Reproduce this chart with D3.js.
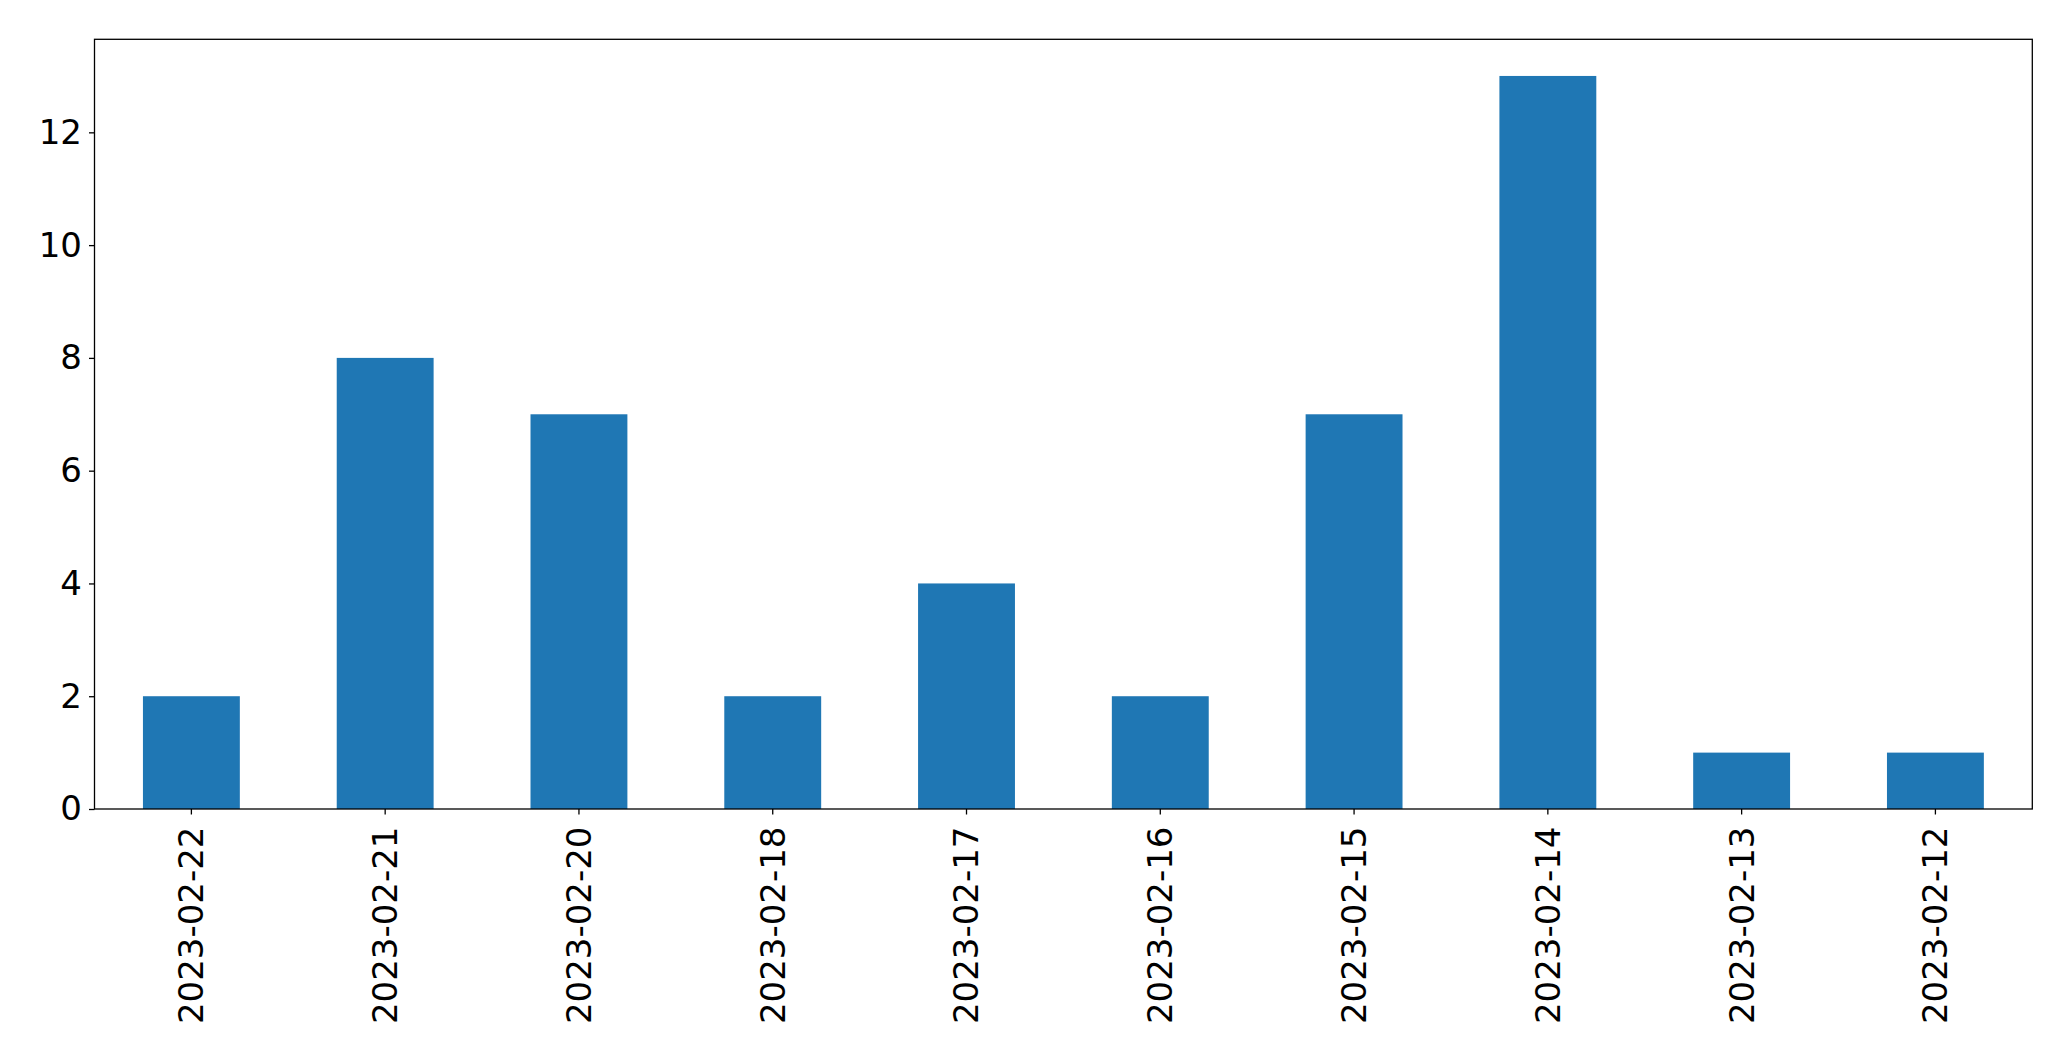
<!DOCTYPE html>
<html><head><meta charset="utf-8">
<script src="https://cdn.jsdelivr.net/npm/d3@7"></script>
<style>html,body{margin:0;padding:0;background:#fff;}</style>
</head><body>
<svg id="chart" width="2071" height="1061"></svg>
<script>
const categories = ["2023-02-22","2023-02-21","2023-02-20","2023-02-18","2023-02-17","2023-02-16","2023-02-15","2023-02-14","2023-02-13","2023-02-12"];
const values = [2, 8, 7, 2, 4, 2, 7, 13, 1, 1];
const yTicks = [0, 2, 4, 6, 8, 10, 12];

const margin = {left: 94.5, right: 2032.3, top: 39.3, bottom: 809};
const svg = d3.select("#chart");
const font = "'DejaVu Sans', sans-serif";
const fs = 34;

const x = d3.scaleBand().domain(categories).range([margin.left, margin.right]).paddingInner(0.5).paddingOuter(0.25);
const y = d3.scaleLinear().domain([0, d3.max(values) * 1.05]).range([margin.bottom, margin.top]);

svg.append("g").selectAll("rect").data(values).join("rect")
  .attr("x", (d, i) => x(categories[i]))
  .attr("width", x.bandwidth())
  .attr("y", d => y(d))
  .attr("height", d => y(0) - y(d))
  .attr("fill", "#1f77b4");

const yAxis = svg.append("g").attr("transform", `translate(${margin.left},0)`)
  .call(d3.axisLeft(y).tickValues(yTicks).tickSize(5.5).tickPadding(7).tickFormat(d3.format("d")));
yAxis.select(".domain").remove();
yAxis.selectAll("line").attr("stroke", "#000").attr("stroke-width", 1.3);
yAxis.selectAll("text").attr("font-family", font).attr("font-size", fs).attr("fill", "#000");

const xAxis = svg.append("g").attr("transform", `translate(0,${margin.bottom})`)
  .call(d3.axisBottom(x).tickSize(5.5).tickPadding(12));
xAxis.select(".domain").remove();
xAxis.selectAll("line").attr("stroke", "#000").attr("stroke-width", 1.3);
xAxis.selectAll("text")
  .attr("font-family", font).attr("font-size", fs).attr("fill", "#000")
  .attr("transform", "rotate(-90)")
  .attr("text-anchor", "end")
  .attr("x", -17.5).attr("y", 0).attr("dy", "0.35em");

svg.append("rect")
  .attr("x", margin.left).attr("y", margin.top)
  .attr("width", margin.right - margin.left).attr("height", margin.bottom - margin.top)
  .attr("fill", "none").attr("stroke", "#000").attr("stroke-width", 1.3);
</script>
</body></html>
